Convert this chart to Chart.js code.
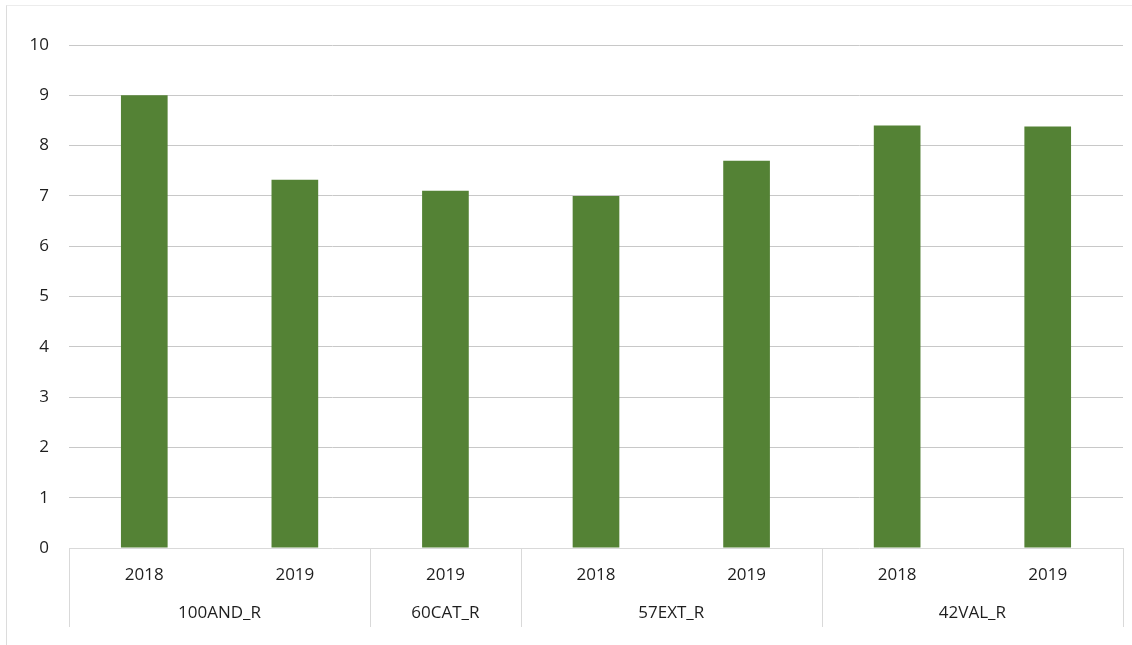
<!DOCTYPE html>
<html>
<head>
<meta charset="utf-8">
<script src="https://cdn.jsdelivr.net/npm/chart.js@4/dist/chart.umd.min.js"></script>
<style>
  html, body { margin: 0; padding: 0; background: #fff; overflow: hidden; }
  #frame { position: absolute; left: 6px; top: 5px; width: 1140px; height: 660px;
           border-top: 1px solid #ececec; border-left: 1px solid #dcdcdc; }
  #wrap { position: absolute; left: 0; top: 0; width: 1132px; height: 645px; }
</style>
</head>
<body>
<div id="frame"></div>
<div id="wrap"><canvas id="c" width="1132" height="645"></canvas></div>
<script>
const groupNames = ['100AND_R', '60CAT_R', '57EXT_R', '42VAL_R'];
const groupCounts = [2, 1, 2, 2];
const yearLabels = ['2018', '2019', '2019', '2018', '2019', '2018', '2019'];
const values = [9.0, 7.32, 7.1, 7.0, 7.7, 8.4, 8.38];
const yTicks = [0, 1, 2, 3, 4, 5, 6, 7, 8, 9, 10];

// derived group centres and boundaries (in category index units)
const groupCenters = [];
const groupBounds = [-0.5];
let start = 0;
groupCounts.forEach(n => {
  groupCenters.push(start + (n - 1) / 2);
  start += n;
  groupBounds.push(start - 0.5);
});

const FONT = { family: "'Open Sans', 'Liberation Sans', sans-serif", size: 17 };
const TXT = '#1e1e1e';

const separators = {
  id: 'separators',
  afterDraw(chart) {
    const xs = chart.scales.xg;
    const ctx = chart.ctx;
    const top = chart.chartArea.bottom;
    const bottom = xs.bottom - 18;
    ctx.save();
    ctx.strokeStyle = '#d9d9d9';
    ctx.lineWidth = 1;
    groupBounds.forEach(b => {
      const x = Math.round(xs.getPixelForValue(b)) + 0.5;
      ctx.beginPath();
      ctx.moveTo(x, top);
      ctx.lineTo(x, bottom);
      ctx.stroke();
    });
    ctx.restore();
  }
};

new Chart(document.getElementById('c'), {
  type: 'bar',
  data: {
    labels: yearLabels,
    datasets: [{
      data: values,
      backgroundColor: '#548235',
      borderWidth: 0,
      barPercentage: 0.31,
      categoryPercentage: 1.0,
      xAxisID: 'x',
      yAxisID: 'y'
    }]
  },
  options: {
    responsive: false,
    animation: false,
    devicePixelRatio: 1,
    layout: { padding: { top: 45, right: 9, left: 0, bottom: 0 } },
    plugins: { legend: { display: false }, tooltip: { enabled: false } },
    scales: {
      y: {
        min: 0, max: 10,
        afterBuildTicks(scale) { scale.ticks = yTicks.map(v => ({ value: v })); },
        afterFit(scale) { scale.width = 69; },
        border: { display: false },
        grid: {
          color: ctx => ctx.tick && ctx.tick.value === 0 ? '#d9d9d9' : '#c8c8c8',
          drawTicks: false
        },
        ticks: { padding: 20, color: TXT, font: FONT }
      },
      x: {
        type: 'category',
        position: 'bottom',
        offset: true,
        afterFit(scale) { scale.height = 48; },
        border: { display: false },
        grid: { display: false, drawTicks: false },
        ticks: { padding: 17, color: TXT, font: FONT, autoSkip: false, maxRotation: 0 }
      },
      xg: {
        type: 'linear',
        position: 'bottom',
        offset: false,
        grace: 0,
        bounds: 'data',
        min: -0.5,
        max: yearLabels.length - 0.5,
        afterBuildTicks(scale) { scale.ticks = groupCenters.map(v => ({ value: v })); },
        afterFit(scale) { scale.height = 49; },
        border: { display: false },
        grid: { display: false, drawTicks: false, offset: false },
        ticks: {
          padding: 7, color: TXT, font: FONT, autoSkip: false, maxRotation: 0,
          callback: (v) => {
            const i = groupCenters.indexOf(v);
            return i >= 0 ? groupNames[i] : '';
          }
        }
      }
    }
  },
  plugins: [separators]
});
</script>
</body>
</html>
